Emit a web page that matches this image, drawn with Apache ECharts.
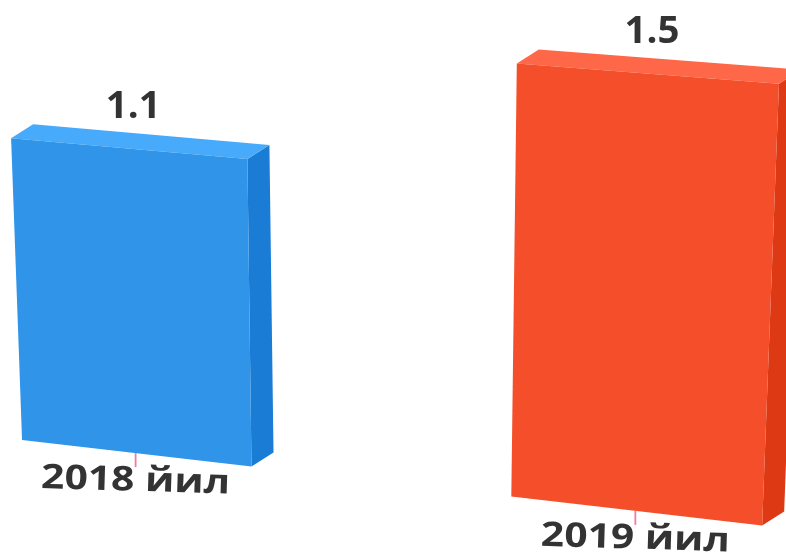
<!DOCTYPE html>
<html><head><meta charset="utf-8">
<script src="https://cdn.jsdelivr.net/npm/echarts@6/dist/echarts.min.js"></script>
<style>html,body{margin:0;padding:0;background:#fff}#c{width:786px;height:555px}</style>
</head><body><div id="c"></div>
<script>
// ---- data ----
const categories = ['2018 йил', '2019 йил'];
const values = [1.1, 1.5];
const yMax = 1.5;

// ---- style ----
const frontColors = ['#3094E9', '#F44F2A'];
const topColors = ['#47AAFB', '#FE6747'];
const sideColors = ['#1A7CD5', '#DC3914'];
const BAR_FRAC = 0.48;
const DEPTH = [22, -14];
// perspective view: where the plot plane's corners land on screen
// order: bottom-left, bottom-right, top-right, top-left
const PLANE = [[-98.3, 426.1], [902.7, 541.8], [926.1, 95.1], [-118.2, 14.3]];

function squareToQuad(q){
  const [A,B,C,D] = q;
  const dx1 = B[0]-C[0], dx2 = D[0]-C[0], dx3 = A[0]-B[0]+C[0]-D[0];
  const dy1 = B[1]-C[1], dy2 = D[1]-C[1], dy3 = A[1]-B[1]+C[1]-D[1];
  const den = dx1*dy2 - dx2*dy1;
  const g = (dx3*dy2 - dx2*dy3)/den;
  const h = (dx1*dy3 - dx3*dy1)/den;
  return [B[0]-A[0]+g*B[0], D[0]-A[0]+h*D[0], A[0],
          B[1]-A[1]+g*B[1], D[1]-A[1]+h*D[1], A[1], g, h];
}
const H = squareToQuad(PLANE);
function project(s, t){
  const w = H[6]*s + H[7]*t + 1;
  return [(H[0]*s + H[1]*t + H[2])/w, (H[3]*s + H[4]*t + H[5])/w];
}

function renderItem(params, api){
  const cs = params.coordSys;
  const i = api.value(0), v = api.value(1);
  const base = api.coord([i, 0]);
  const top = api.coord([i, v]);
  const bw = api.size([1, 0])[0] * BAR_FRAC;
  const warp = p => project((p[0]-cs.x)/cs.width, (cs.y+cs.height-p[1])/cs.height);
  const fl = warp([base[0]-bw/2, base[1]]), fr = warp([base[0]+bw/2, base[1]]);
  const tl = warp([top[0]-bw/2, top[1]]), tr = warp([top[0]+bw/2, top[1]]);
  const bc = warp(base);
  const add = p => [p[0]+DEPTH[0], p[1]+DEPTH[1]];
  return {type:'group', children:[
    {type:'line', shape:{x1:bc[0], y1:bc[1], x2:bc[0], y2:bc[1]+14}, style:{stroke:'#F27BA3', lineWidth:1.8}},
    {type:'polygon', shape:{points:[tr, add(tr), add(fr), fr]}, style:{fill:sideColors[i]}},
    {type:'polygon', shape:{points:[tl, add(tl), add(tr), tr]}, style:{fill:topColors[i]}},
    {type:'polygon', shape:{points:[tl, tr, fr, fl]}, style:{fill:frontColors[i]}},
    {type:'text', x:bc[0], y:bc[1]+28, scaleX:1.2, rotation:-0.03,
      style:{text:categories[i], fontFamily:'Open Sans', fontWeight:'bold', fontSize:34, fill:'#333', align:'center', verticalAlign:'middle'}},
    {type:'text', x:(tl[0]+tr[0])/2+4, y:(tl[1]+tr[1])/2-41, scaleX:1.04,
      style:{text:String(values[i]), fontFamily:'Open Sans', fontWeight:'bold', fontSize:37, fill:'#333', align:'center', verticalAlign:'middle'}}
  ]};
}

const chart = echarts.init(document.getElementById('c'));
chart.setOption({
  animation:false,
  grid:{left:0, right:0, top:0, bottom:0},
  xAxis:{type:'category', data:categories, show:false},
  yAxis:{type:'value', min:0, max:yMax, show:false},
  series:[{type:'custom', renderItem, data: values.map((v, i) => [i, v])}]
});
</script></body></html>
